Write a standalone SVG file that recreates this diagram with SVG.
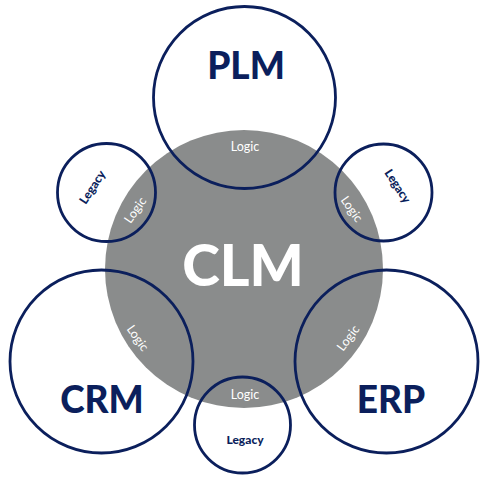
<svg xmlns="http://www.w3.org/2000/svg" width="487" height="480" viewBox="0 0 487 480">
<style>
.ring{fill:none;stroke:#0b1f5c;stroke-width:2.8}
.big{font-family:Lato,"Liberation Sans",sans-serif;font-weight:900;fill:#0b1f5c;text-anchor:middle}
.leg{font-family:Lato,"Liberation Sans",sans-serif;font-weight:900;font-size:12px;fill:#0b1f5c;text-anchor:middle;dominant-baseline:central}
.logic{font-family:Lato,"Liberation Sans",sans-serif;font-weight:400;font-size:12.5px;fill:#ffffff;text-anchor:middle;dominant-baseline:central}
</style>
<rect width="487" height="480" fill="#ffffff"/>
<g id="clm">
<circle cx="244" cy="269" r="139" fill="#8a8c8c"/>
<text class="big" x="243" y="286" font-size="57" style="fill:#ffffff">CLM</text>
<text class="logic" x="245" y="146">Logic</text>
<text class="logic" transform="translate(135,210) rotate(-55)">Logic</text>
<text class="logic" transform="translate(352,209) rotate(55)">Logic</text>
<text class="logic" transform="translate(138,338) rotate(55)">Logic</text>
<text class="logic" transform="translate(348,338) rotate(-53)">Logic</text>
<text class="logic" x="245" y="394">Logic</text>
</g>
<g id="plm">
<circle class="ring" cx="244.5" cy="97.5" r="91"/>
<text class="big" x="246" y="79" font-size="37">PLM</text>
</g>
<g id="legacy-left">
<circle class="ring" cx="106.5" cy="192.5" r="49"/>
<text class="leg" transform="translate(92,187) rotate(-57)">Legacy</text>
</g>
<g id="legacy-right">
<circle class="ring" cx="383.5" cy="192.5" r="48.5"/>
<text class="leg" transform="translate(398,186) rotate(57)">Legacy</text>
</g>
<g id="crm">
<circle class="ring" cx="101.5" cy="361.5" r="91.5"/>
<text class="big" x="102" y="413" font-size="37">CRM</text>
</g>
<g id="erp">
<circle class="ring" cx="386.5" cy="361.5" r="91.5"/>
<text class="big" x="391" y="413" font-size="37">ERP</text>
</g>
<g id="legacy-bottom">
<circle class="ring" cx="242.5" cy="425" r="48"/>
<text class="leg" x="245" y="439">Legacy</text>
</g>
<g id="connectors"></g>
</svg>
